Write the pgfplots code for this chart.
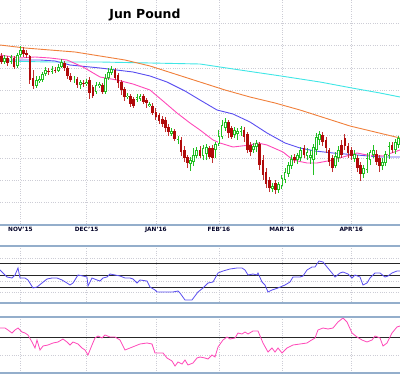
\documentclass[border=0pt]{standalone}
\usepackage{pgfplots}
\pgfplotsset{compat=1.18}
\usepackage{pgfplotstable}
\usepackage{fontspec}
\setmainfont{DejaVu Sans}
\definecolor{cgreen}{HTML}{22C022}
\definecolor{cred}{HTML}{B00A0A}
\definecolor{cwick}{HTML}{C03030}
\definecolor{ccyan}{HTML}{40E6E6}
\definecolor{corange}{HTML}{F0803C}
\definecolor{cpurple}{HTML}{5A4EF0}
\definecolor{cpink}{HTML}{FF48B8}
\definecolor{cframe}{HTML}{94AECB}
\definecolor{cgrid}{HTML}{CDCDD6}

% candles: i = bar index, o h l c (vertical pixel position, smaller = higher price)
\pgfplotstableread{
i o h l c
1 62 55 64 58
3 62 55 64 57
5 66 53 68 55
6 55 46 57 50
11 86 76 88 80
12 81 76 83 79
13 80 72 82 74
14 74 67 76 70
16 72 66 74 69
18 71 64 72 67
19 67 59 68 62
23 80 76 83 79
25 85 80 89 82
27 84 79 86 82
30 92 82 94 85
31 86 82 88 84
33 92 74 94 78
34 78 68 80 72
35 73 66 75 69
40 97 93 99 96
43 100 94 102 97
44 99 94 101 96
47 106 102 107 104
54 134 128 136 131
56 141 136 144 139
60 164 157 171 160
61 162 148 166 155
62 156 147 158 150
64 156 145 160 148
65 154 144 160 147
68 150 142 158 144
69 144 130 146 136
70 137 120 139 125
71 128 118 131 122
74 135 127 138 130
75 134 128 140 131
76 132 126 136 128
80 150 143 153 146
81 147 140 152 143
86 189 183 192 186
88 190 182 193 184
89 186 175 189 178
90 180 168 183 172
91 174 162 177 165
92 166 155 169 159
94 160 153 164 155
95 158 147 161 150
97 156 148 160 152
98 158 150 164 155
99 160 144 175 147
100 150 133 155 137
101 140 131 145 134
106 166 152 168 156
107 158 146 162 150
112 159 150 162 154
115 174 165 178 168
116 170 153 173 158
117 160 150 165 152
118 155 145 158 150
121 166 158 170 162
122 163 151 166 154
123 156 142 159 146
125 150 139 154 142
126 145 136 148 138
}\upcandles

\pgfplotstableread{
i o h l c
0 56 53 64 62
2 58 56 66 63
4 58 56 69 67
7 50 47 57 54
8 53 50 58 55
9 56 55 84 80
10 78 70 89 86
15 71 68 75 72
17 70 67 73 71
20 63 61 71 68
21 68 66 79 76
22 76 73 82 80
24 79 77 88 85
26 83 80 87 84
28 80 77 99 93
29 87 85 98 96
32 85 83 94 92
36 70 68 80 78
37 75 73 88 83
38 82 80 95 90
39 89 87 101 97
41 96 94 107 104
42 99 97 108 106
45 96 94 104 102
46 100 98 108 103
48 106 103 115 113
49 112 108 120 117
50 115 113 124 121
51 119 116 127 124
52 120 117 132 128
53 127 124 136 132
55 131 129 141 139
57 140 137 156 152
58 150 146 162 158
59 157 155 168 163
63 150 146 158 156
66 148 146 159 157
67 148 145 163 158
72 122 120 138 133
73 128 126 139 137
77 130 127 142 137
78 134 132 153 150
79 145 142 156 152
82 144 142 170 165
83 160 155 180 175
84 172 168 188 184
85 180 177 192 188
87 183 180 194 190
93 157 154 163 160
96 148 145 158 155
102 135 132 146 142
103 140 137 153 148
104 150 148 166 162
105 158 155 172 168
108 145 140 158 155
109 138 134 150 146
110 146 143 158 153
111 150 147 160 156
113 158 155 172 168
114 165 162 181 174
119 154 150 165 162
120 158 155 172 166
124 145 142 153 150
}\dncandles

\begin{document}
\begin{tikzpicture}
\useasboundingbox (0,0) rectangle (400bp,379bp);
\pgfplotsset{
  panel/.style={anchor=south west, scale only axis, width=400bp,
    xmin=0, xmax=400, y dir=reverse, axis line style={draw=none},
    xtick={20.4,86.6,155.9,218.9,281.9,351.2},
    major tick length=0, grid=major,
    major grid style={dash pattern=on 0.7bp off 1.6bp, cgrid, line width=0.7bp},
    yticklabels={}},
}
% ---------- main price panel ----------
\begin{axis}[panel, at={(0bp,154bp)}, height=225bp, ymin=0, ymax=225,
  xticklabels={NOV'15,DEC'15,JAN'16,FEB'16,MAR'16,APR'16},
  xticklabel style={font=\bfseries\fontsize{5.8}{6}\selectfont, text=black!85!blue, anchor=center, yshift=-4.5bp},
  ytick={23,45,68,90,113,135,158,180,202}]
\addplot[ccyan, line width=0.9bp, no markers] coordinates {(0,61) (50,62) (100,62) (150,63) (200,64) (240,70) (281,76) (320,82) (352,88) (380,93) (400,97)};
\addplot[corange, line width=0.9bp, no markers] coordinates {(0,45) (25,48) (50,50) (75,52) (100,56) (125,60) (150,66) (175,74) (200,82) (225,90) (250,97) (275,103) (300,110) (325,118) (350,126) (375,132) (400,138)};
\addplot[cpurple, line width=0.9bp, no markers] coordinates {(0,60) (40,60) (55,61) (70,65) (100,68) (133,72) (150,76) (167,82) (185,91) (200,100) (217,110) (233,114) (250,122) (267,133) (285,143) (300,148) (315,151) (333,153) (357,155) (380,157) (400,157)};
\addplot[cpink, line width=0.9bp, no markers] coordinates {(0,55) (20,58) (35,57) (50,58) (67,60) (83,67) (100,77) (117,80) (133,84) (150,90) (163,101) (177,113) (190,123) (200,130) (213,140) (220,143) (233,147) (250,145) (258,143) (267,145) (283,152) (293,160) (307,163) (317,163) (333,160) (343,157) (357,153) (367,155) (383,156) (400,150)};
% down candles
\addplot[quiver={u=0, v=\thisrow{h}-\thisrow{l}}, -, cwick, line width=0.8bp, no markers] table[x expr=1.5+3.15*\thisrow{i}, y=l]{\dncandles};
\addplot[quiver={u=0, v=\thisrow{c}-\thisrow{o}}, -, cred, line width=2.7bp, no markers] table[x expr=1.5+3.15*\thisrow{i}, y=o]{\dncandles};
% up candles (hollow)
\addplot[quiver={u=0, v=\thisrow{h}-\thisrow{l}}, -, cgreen, line width=0.8bp, no markers] table[x expr=1.5+3.15*\thisrow{i}, y=l]{\upcandles};
\addplot[quiver={u=0, v=\thisrow{c}-\thisrow{o}}, -, cgreen, line width=2.7bp, no markers] table[x expr=1.5+3.15*\thisrow{i}, y=o]{\upcandles};
\addplot[quiver={u=0, v=\thisrow{c}-\thisrow{o}+1.6}, -, white, line width=1.0bp, no markers] table[x expr=1.5+3.15*\thisrow{i}, y expr=\thisrow{o}-0.8]{\upcandles};
\node[font=\bfseries\fontsize{12.5}{14}\selectfont] at (axis cs:145,15.5) {Jun Pound};
\end{axis}
% ---------- indicator 1 ----------
\begin{axis}[panel, at={(0bp,76bp)}, height=57bp, ymin=246, ymax=303,
  xticklabels={}, ytick={258,281,292}]
\draw[black!85, line width=0.8bp] (axis cs:0,263) -- (axis cs:400,263);
\draw[black!85, line width=0.8bp] (axis cs:0,275) -- (axis cs:400,275);
\draw[black!85, line width=0.8bp] (axis cs:0,287) -- (axis cs:400,287);
\addplot[cpurple, line width=0.8bp, no markers] table {
x y
0 270
3 273
7 277
12 278
15 275
18 268
20 278
25 278
28 280
33 288
37 287
42 283
47 279
52 278
57 278
62 280
67 283
70 285
73 283
78 275
83 276
87 277
88 286
92 278
97 280
100 281
103 278
107 277
110 274
115 275
120 276
125 278
130 278
133 279
137 283
140 280
147 281
150 287
155 290
157 292
167 292
173 292
178 291
180 293
185 300
192 300
198 292
203 288
208 283
213 282
218 273
223 271
230 269
237 268
242 268
245 270
248 275
253 274
257 275
258 273
262 282
265 285
268 292
272 290
278 288
285 285
290 282
293 277
300 277
303 276
307 270
312 267
315 267
319 261
323 262
327 267
332 273
335 277
340 273
343 272
348 274
352 278
355 275
360 277
363 285
367 283
370 278
375 273
380 273
385 277
388 276
392 273
397 271
400 271
};
\end{axis}
% ---------- indicator 2 ----------
\begin{axis}[panel, at={(0bp,6bp)}, height=56bp, ymin=317, ymax=373,
  xticklabels={}, ytick={355}]
\draw[black!85, line width=0.8bp] (axis cs:0,337) -- (axis cs:400,337);
\addplot[cpink, line width=0.8bp, no markers] table {
x y
0 328
5 328
8 330
12 333
15 330
18 328
22 332
25 333
28 335
32 342
35 348
37 340
40 350
43 346
48 345
53 343
58 342
63 339
67 342
70 345
73 342
78 344
82 348
85 350
88 355
92 345
95 338
98 336
102 338
105 335
110 337
115 337
120 340
125 350
130 348
135 346
140 344
147 343
152 344
155 353
163 353
167 358
172 361
175 366
178 362
182 364
185 360
188 365
193 363
197 358
200 357
205 358
208 359
212 355
215 357
218 347
223 340
227 337
230 339
235 338
238 333
242 334
245 332
248 334
253 331
258 331
263 343
268 352
272 348
275 352
278 348
282 353
287 348
293 345
300 344
307 343
310 341
315 338
318 330
323 328
328 329
333 328
338 322
343 318
347 322
352 333
357 337
362 340
367 342
372 340
375 336
380 338
383 346
387 343
392 333
397 327
400 326
};
\end{axis}
\draw[cframe, line width=1.3bp] (0,154bp) -- (400bp,154bp);
\draw[cframe, line width=1.3bp] (0,133bp) -- (400bp,133bp);
\draw[cframe, line width=1.3bp] (0,76bp) -- (400bp,76bp);
\draw[cframe, line width=1.3bp] (0,62bp) -- (400bp,62bp);
\draw[cframe, line width=1.3bp] (0,6bp) -- (400bp,6bp);
\end{tikzpicture}
\end{document}
